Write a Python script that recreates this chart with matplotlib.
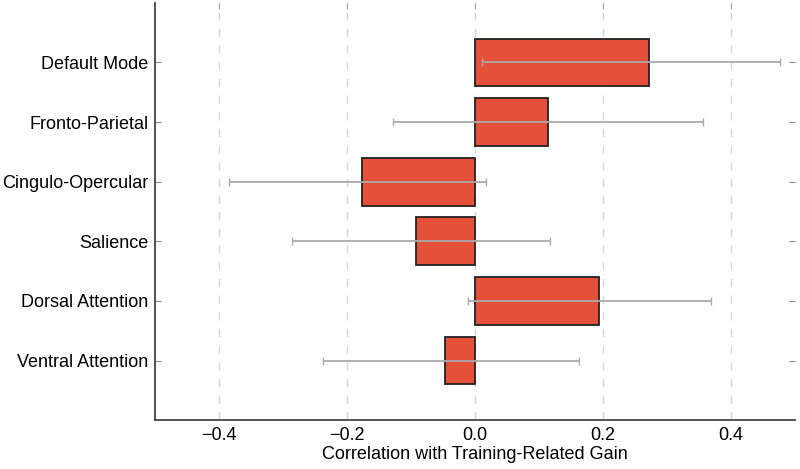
import numpy as np
from matplotlib import pyplot as plt

plt.rcParams['font.family'] = ['Liberation Sans', 'DejaVu Sans']

networks = ['Default Mode', 'Fronto-Parietal', 'Cingulo-Opercular',
            'Salience', 'Dorsal Attention', 'Ventral Attention']
corr = np.array([0.271, 0.114, -0.177, -0.092, 0.193, -0.047])
ci_low = np.array([0.011, -0.129, -0.385, -0.287, -0.012, -0.238])
ci_high = np.array([0.476, 0.356, 0.017, 0.117, 0.368, 0.162])

ypos = np.arange(len(networks), 0, -1)
xerr = np.vstack([corr - ci_low, ci_high - corr])

fig = plt.figure(figsize=(8, 4.69), dpi=100)
ax = fig.add_axes([0.194, 0.104, 0.8, 0.89])

ax.barh(ypos, corr, height=0.8, color='#e5503a', edgecolor='#222222',
        linewidth=1.3, zorder=3)
ax.errorbar(corr, ypos, xerr=xerr, fmt='none', ecolor='#aaaaaa',
            elinewidth=1.3, capsize=3, capthick=1.0, zorder=4)

ax.set_xlim(-0.5, 0.5)
ax.set_ylim(0, 7)
ax.set_xticks([-0.4, -0.2, 0.0, 0.2, 0.4])
ax.set_xticklabels(['\u22120.4', '\u22120.2', '0.0', '0.2', '0.4'])
ax.set_yticks(ypos)
ax.set_yticklabels(networks)
ax.xaxis.grid(True, linestyle=(0, (6, 6)), color='#d8d8d8', linewidth=1.0, zorder=0)

for side in ['top', 'right']:
    ax.spines[side].set_visible(False)
for side in ['left', 'bottom']:
    ax.spines[side].set_color('#444444')
    ax.spines[side].set_linewidth(1.3)

ax.tick_params(axis='x', direction='in', bottom=False, top=True, length=4,
               color='#999999', labelsize=13, pad=5)
ax.tick_params(axis='y', direction='in', left=True, right=True, length=4,
               color='#888888', labelsize=13, pad=5)
ax.set_xlabel('Correlation with Training-Related Gain', fontsize=13, labelpad=1)

fig.savefig('out.png', dpi=100)
